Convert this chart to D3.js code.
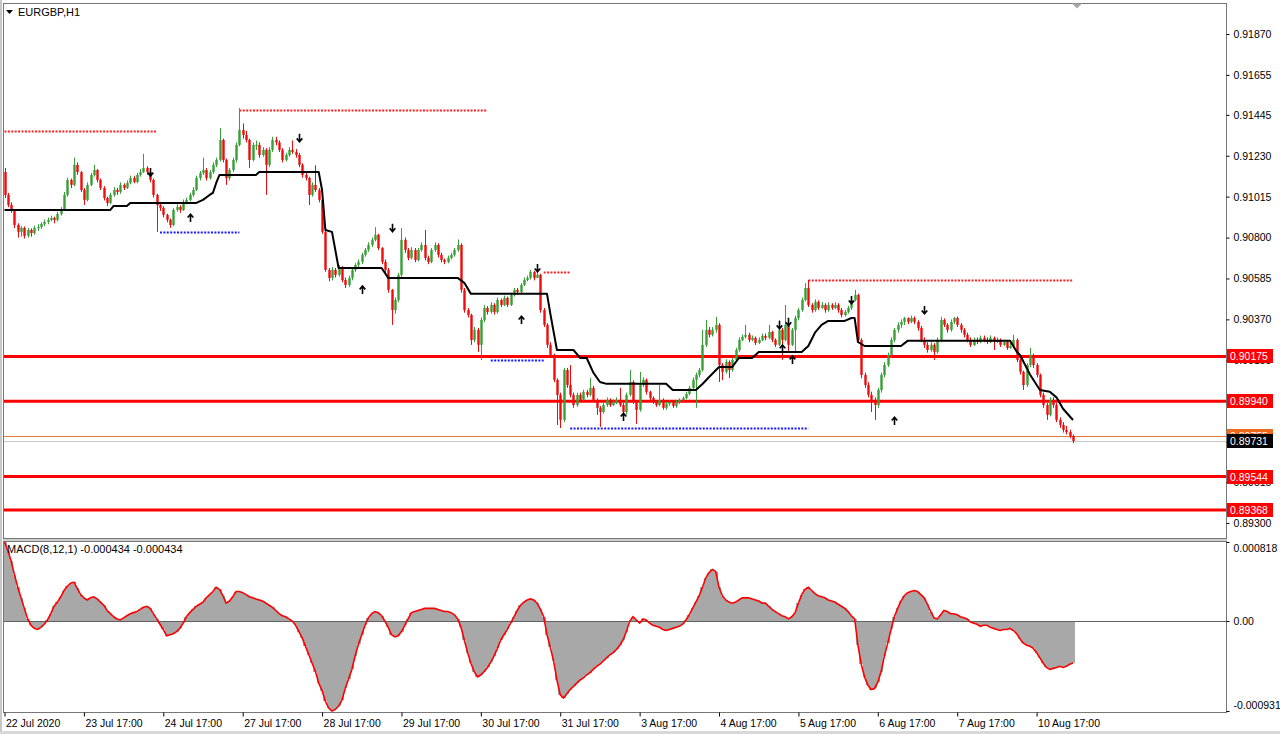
<!DOCTYPE html>
<html><head><meta charset="utf-8">
<script src="https://cdn.jsdelivr.net/npm/d3@7"></script>
<style>
html,body{margin:0;padding:0;background:#fff;}
svg{display:block;font-family:"Liberation Sans",Arial,sans-serif;}
</style></head><body>
<svg id="chart" width="1280" height="734"></svg>
<script>
// ---------------- DATA ----------------
const symbolTitle = "EURGBP,H1";
const macdTitle = "MACD(8,12,1) -0.000434 -0.000434";
const firstOpenPts = 91145; // price points (1e-5)
const closePts = [
91024,90971,90945,90866,90830,90851,90809,90840,90824,90851,
90856,90872,90882,90893,90903,90893,90924,90945,91024,91103,
91077,91182,91144,91050,90998,91077,91129,91155,91103,91061,
91008,90982,91024,91050,91040,91077,91061,91087,91113,91092,
91129,91144,91166,91144,91103,91024,90971,90956,90919,90893,
90866,90945,90961,90945,90987,90998,91024,91050,91113,91139,
91155,91113,91144,91182,91208,91313,91208,91113,91155,91208,
91287,91366,91339,91313,91208,91287,91287,91234,91261,91182,
91261,91313,91300,91261,91208,91234,91261,91250,91234,91182,
91129,91113,91024,91077,91050,90998,90830,90630,90588,90630,
90604,90640,90577,90551,90588,90630,90656,90672,90709,90735,
90761,90788,90814,90745,90672,90630,90525,90419,90472,90604,
90788,90735,90693,90735,90682,90735,90761,90693,90672,90735,
90761,90709,90682,90672,90693,90709,90735,90761,90525,90419,
90393,90262,90315,90236,90367,90430,90409,90446,90409,90472,
90446,90483,90446,90498,90525,90514,90551,90577,90588,90619,
90588,90604,90419,90341,90236,90183,90052,89973,89842,90104,
90025,89973,89920,89973,89947,89989,89973,90010,89947,89905,
89883,89920,89947,89920,89936,89947,89920,89883,89973,90041,
89936,89894,90025,90052,89989,89957,89936,89920,89947,89905,
89926,89936,89915,89936,89947,89957,89978,90010,90052,90078,
90104,90236,90315,90289,90315,90341,90130,90094,90146,90104,
90157,90209,90262,90278,90289,90262,90273,90246,90262,90283,
90273,90304,90262,90236,90315,90262,90341,90236,90315,90377,
90419,90472,90535,90446,90419,90462,90430,90446,90419,90446,
90430,90446,90419,90393,90409,90430,90472,90498,90262,90078,
90025,89973,89947,89920,89999,90078,90130,90183,90262,90315,
90341,90357,90377,90357,90377,90357,90325,90262,90236,90209,
90236,90199,90262,90367,90341,90315,90357,90377,90341,90315,
90289,90262,90236,90262,90251,90273,90262,90251,90273,90251,
90262,90236,90251,90220,90230,90262,90157,90094,90025,90130,
90183,90130,90078,89973,89920,89868,89947,89920,89842,89815,
89789,89778,89757,89731];
const highPts = [
91166,91035,90985,90950,90875,90860,90858,90850,90848,90862,
90870,90880,90895,90905,90915,90910,90935,90960,91040,91115,
91110,91220,91195,91150,91060,91090,91140,91182,91160,91110,
91070,91015,91035,91065,91060,91090,91085,91100,91125,91125,
91140,91160,91240,91175,91150,91110,91030,90985,90965,90925,
90900,90955,90975,90970,91000,91010,91035,91065,91125,91150,
91220,91165,91155,91195,91220,91375,91320,91215,91165,91220,
91300,91480,91400,91360,91320,91300,91310,91300,91275,91270,
91275,91330,91330,91310,91270,91245,91275,91310,91265,91245,
91190,91140,91120,91090,91180,91060,91005,90840,90640,90645,
90640,90655,90650,90590,90600,90640,90665,90685,90720,90745,
90775,90800,90855,90820,90750,90685,90640,90530,90485,90615,
90850,90800,90745,90750,90745,90745,90775,90840,90705,90745,
90775,90770,90720,90690,90705,90720,90745,90790,90770,90535,
90430,90400,90330,90325,90380,90445,90440,90460,90455,90485,
90480,90495,90490,90510,90535,90535,90560,90590,90600,90630,
90625,90625,90610,90430,90350,90250,90190,90060,89985,90115,
90115,90130,89985,89985,89985,90000,90000,90062,90020,89955,
89915,89930,89960,89955,89950,89960,90010,89930,89985,90104,
90050,89945,90094,90065,90060,89995,89965,89945,90025,89955,
89935,89945,89945,89945,89955,89965,89990,90020,90065,90090,
90115,90315,90367,90330,90330,90383,90350,90140,90160,90155,
90170,90220,90275,90290,90341,90300,90285,90280,90275,90295,
90295,90341,90310,90270,90367,90325,90446,90350,90325,90390,
90430,90485,90560,90577,90455,90475,90470,90460,90455,90460,
90455,90460,90455,90430,90420,90440,90485,90525,90505,90270,
90090,90040,89990,89960,90010,90090,90145,90195,90275,90325,
90355,90370,90383,90380,90390,90385,90365,90335,90275,90250,
90250,90245,90275,90383,90375,90350,90370,90383,90385,90350,
90325,90300,90275,90275,90275,90285,90285,90275,90285,90280,
90275,90270,90262,90260,90245,90289,90270,90165,90100,90140,
90220,90190,90140,90085,89985,89930,89960,89960,89930,89855,
89830,89810,89790,89765];
const lowPts = [
91008,90960,90930,90850,90800,90805,90795,90800,90805,90815,
90835,90845,90860,90870,90885,90875,90885,90915,90940,91015,
91060,91070,91130,91040,90971,90990,91070,91120,91090,91050,
90995,90966,90975,91015,91025,91030,91050,91055,91080,91085,
91085,91120,91140,91130,91090,91010,90830,90940,90905,90880,
90851,90860,90935,90930,90940,90975,90990,91015,91045,91100,
91130,91100,91105,91135,91170,91200,91195,91077,91100,91145,
91195,91280,91320,91300,91166,91200,91260,91220,91225,91024,
91170,91250,91285,91250,91195,91200,91225,91240,91220,91170,
91115,91100,90971,91015,91040,90985,90820,90620,90570,90575,
90590,90595,90565,90535,90540,90575,90620,90645,90660,90700,
90725,90750,90780,90735,90660,90615,90510,90341,90400,90460,
90590,90720,90680,90685,90670,90675,90725,90680,90660,90665,
90725,90695,90670,90660,90665,90685,90700,90725,90510,90405,
90380,90236,90250,90199,90157,90355,90395,90400,90395,90400,
90435,90440,90435,90440,90490,90500,90505,90545,90570,90580,
90575,90590,90405,90330,90220,90170,90040,89815,89799,89830,
90010,89960,89905,89910,89935,89940,89960,89965,89935,89868,
89805,89875,89910,89910,89915,89925,89910,89842,89870,89965,
89925,89820,89885,90015,89975,89945,89925,89910,89915,89895,
89895,89915,89905,89905,89925,89935,89950,89970,90000,89905,
90065,90095,90225,90275,90280,90300,90041,90050,90085,90062,
90095,90150,90200,90255,90270,90250,90255,90235,90240,90255,
90260,90265,90250,90225,90230,90157,90255,90199,90230,90199,
90365,90410,90465,90435,90405,90410,90420,90425,90405,90410,
90420,90425,90405,90380,90385,90400,90420,90465,90250,90060,
90010,89960,89883,89842,89905,89985,90065,90120,90170,90250,
90300,90325,90340,90345,90350,90345,90310,90250,90220,90195,
90200,90157,90190,90250,90330,90300,90305,90345,90330,90300,
90275,90250,90225,90230,90240,90245,90250,90240,90245,90209,
90245,90225,90230,90210,90215,90225,90145,90080,89999,90015,
90120,90115,90065,89960,89905,89842,89860,89905,89830,89800,
89775,89765,89745,89720];
// MACD main (= signal, period 1), in millionths
const macdMicro = [
818,730,621,480,349,240,131,22,-44,-76,
-87,-65,-33,11,76,153,196,251,316,360,
392,403,338,273,240,218,240,251,229,196,
164,109,76,44,22,11,33,55,76,87,
98,120,142,153,131,76,22,-33,-87,-153,
-142,-131,-109,-76,-22,44,87,120,153,174,
196,240,273,305,349,327,262,185,207,251,
305,305,294,273,251,240,229,218,207,185,
164,142,109,76,55,44,22,0,-44,-109,
-174,-262,-349,-436,-523,-643,-719,-830,-900,-931,
-915,-880,-820,-698,-600,-501,-360,-240,-142,-44,
33,76,98,87,55,0,-65,-142,-164,-153,
-109,-44,22,87,98,109,120,131,131,131,
131,120,109,98,98,87,65,22,-65,-196,
-327,-436,-523,-578,-556,-523,-480,-425,-360,-283,
-196,-142,-87,-22,44,109,164,196,218,229,
218,185,120,44,-142,-273,-414,-610,-763,-796,
-752,-709,-676,-643,-610,-589,-556,-534,-501,-469,
-447,-414,-382,-349,-327,-294,-251,-196,-109,0,
44,11,-22,22,11,-22,-44,-55,-65,-87,
-98,-87,-76,-65,-55,-33,11,65,131,196,
262,349,447,501,534,512,349,262,218,196,
185,196,218,240,240,240,229,218,207,185,
185,153,120,98,76,55,44,22,44,87,
185,273,327,349,316,283,262,251,240,218,
207,196,174,153,131,98,55,22,-251,-447,
-578,-665,-709,-698,-632,-523,-360,-229,-87,44,
131,207,262,294,305,316,305,273,240,174,
98,33,22,65,109,98,76,76,65,44,
33,22,-11,-22,-33,-55,-44,-44,-65,-76,
-87,-98,-87,-87,-76,-98,-131,-185,-229,-251,
-262,-283,-327,-382,-436,-480,-501,-490,-480,-469,
-480,-469,-447,-434];
// stop line vertices (bar index, price points)
const stopIdx = [0,32,33,37,38,58,60,62,63,64,65,76,77,95,96,97,99,101,114,116,137,139,141,164,165,167,172,174,176,178,180,182,200,202,209,211,213,216,220,222,226,228,241,243,245,247,249,254,256,257,258,260,271,273,304,306,307,310,313,316,318,320,323];
const stopPts = [90945,90945,90966,90966,90982,90982,90998,91024,91035,91087,91129,91129,91144,91144,91050,90840,90830,90640,90640,90588,90588,90562,90504,90504,90400,90209,90209,90167,90167,90090,90041,90031,90031,89999,89999,90030,90067,90120,90120,90167,90167,90199,90199,90230,90300,90341,90362,90362,90377,90377,90251,90230,90230,90257,90257,90200,90183,90080,89999,89989,89960,89900,89841];
// dotted fractal levels
const levelPts  = [91360,90830,91472,90157,90618,89799,90577];
const levelFrom = [0,47,71,147,163,171,243];
const levelTo   = [46,71,146,163,171,243,323];
const levelKind = ["res","sup","res","sup","res","sup","res"];
// fractal arrows
const downIdx = [44,89,117,161,234,237,256,278];
const downPts = [91144,91324,90851,90640,90341,90357,90472,90419];
const upIdx = [56,108,156,187,235,238,269];
const upPts = [90903,90525,90367,89857,90215,90157,89836];
// horizontal levels
const hLevels = [0.90175,0.89940,0.89544,0.89368];
const hLevelLabels = ["0.90175","0.89940","0.89544","0.89368"];
const orangeLevel = 0.89755; const orangeLabel = "0.89755";
const bidPrice = 0.89731; const bidLabel = "0.89731";
const priceTicks = [0.91870,0.91655,0.91445,0.91230,0.91015,0.90800,0.90585,0.90370,0.90155,0.89940,0.89725,0.89515,0.89300];
const priceTickLabels = ["0.91870","0.91655","0.91445","0.91230","0.91015","0.90800","0.90585","0.90370","0.90155","","","0.89515","0.89300"];
const macdTicks = [0.000818,0,-0.000931];
const macdTickLabels = ["0.000818","0.00","-0.000931"];
const dateIdx = [0,24,48,72,96,120,144,168,192,216,240,264,288,312];
const dateLabels = ["22 Jul 2020","23 Jul 17:00","24 Jul 17:00","27 Jul 17:00","28 Jul 17:00","29 Jul 17:00","30 Jul 17:00","31 Jul 17:00","3 Aug 17:00","4 Aug 17:00","5 Aug 17:00","6 Aug 17:00","7 Aug 17:00","10 Aug 17:00"];

// ---------------- BUILD ----------------
const P = v => v / 1e5;
const N = closePts.length;
const bars = closePts.map((c, i) => ({
  i, o: P(i === 0 ? firstOpenPts : closePts[i - 1]), c: P(c), h: P(highPts[i]), l: P(lowPts[i])
}));
const macd = macdMicro.map(v => v / 1e6);

const svg = d3.select("#chart");
const L = 3, R = 1226, MT = 3, MB = 538, ST = 541, SB = 712;
const step = 3.308;
const x = d3.scaleLinear().domain([0, N - 1]).range([4.5, 4.5 + step * (N - 1)]);
const y = d3.scaleLinear().domain([0.892208, 0.920329]).range([MB, MT]);
const ym = d3.scaleLinear().domain([-0.000931, 0.000818]).range([711, 542]);

svg.append("rect").attr("width", 1280).attr("height", 734).attr("fill", "#fff");
const defs = svg.append("defs");
defs.append("clipPath").attr("id", "cm").append("rect").attr("x", L + 1).attr("y", MT + 1).attr("width", R - L - 1).attr("height", MB - MT - 1);
defs.append("clipPath").attr("id", "cs").append("rect").attr("x", L + 1).attr("y", ST + 1).attr("width", R - L - 1).attr("height", SB - ST - 1);

const gm = svg.append("g").attr("clip-path", "url(#cm)");

// orange line & bid line
gm.append("line").attr("x1", L).attr("x2", R).attr("y1", Math.round(y(orangeLevel)) + 0.5).attr("y2", Math.round(y(orangeLevel)) + 0.5).attr("stroke", "#e07a3a").attr("stroke-width", 1);
gm.append("line").attr("x1", L).attr("x2", R).attr("y1", Math.round(y(bidPrice)) + 0.5).attr("y2", Math.round(y(bidPrice)) + 0.5).attr("stroke", "#c8c8c8").attr("stroke-width", 1);

// thick horizontal levels
gm.selectAll(".hl").data(hLevels).enter().append("line")
  .attr("x1", L).attr("x2", R).attr("y1", d => y(d)).attr("y2", d => y(d))
  .attr("stroke", "#ff0000").attr("stroke-width", 3);

// dotted levels
gm.selectAll(".lv").data(levelPts).enter().append("line")
  .attr("x1", (d, k) => x(levelFrom[k])).attr("x2", (d, k) => x(levelTo[k]))
  .attr("y1", d => Math.round(y(P(d))) + 0.5).attr("y2", d => Math.round(y(P(d))) + 0.5)
  .attr("stroke", (d, k) => levelKind[k] === "res" ? "#ff2020" : "#1a1aff")
  .attr("stroke-width", 2).attr("stroke-dasharray", "2,1.4");

// candles
const bull = "#36a036", bear = "#f00a0a";
const cg = gm.append("g");
cg.selectAll(".wk").data(bars).enter().append("line")
  .attr("x1", d => Math.round(x(d.i)) + 0.5).attr("x2", d => Math.round(x(d.i)) + 0.5)
  .attr("y1", d => y(d.h)).attr("y2", d => y(d.l))
  .attr("stroke", d => d.c >= d.o ? bull : bear).attr("stroke-width", 1);
cg.selectAll(".bd").data(bars).enter().append("rect")
  .attr("x", d => Math.round(x(d.i)) - 0.7).attr("width", 2.4)
  .attr("y", d => Math.min(y(d.o), y(d.c))).attr("height", d => Math.max(1, Math.abs(y(d.o) - y(d.c))))
  .attr("fill", d => d.c >= d.o ? bull : bear);

// stop line
gm.append("path").datum(stopIdx.map((d, k) => [d, P(stopPts[k])]))
  .attr("d", d3.line().x(d => x(d[0])).y(d => y(d[1])))
  .attr("fill", "none").attr("stroke", "#000").attr("stroke-width", 2).attr("stroke-linejoin", "round");

// arrows
const ag = gm.append("g").attr("stroke", "#000").attr("stroke-width", 1.6).attr("fill", "none");
downIdx.forEach((d, k) => {
  const ax = Math.round(x(d)) + 0.5, ay = y(P(downPts[k]));
  ag.append("path").attr("d", `M${ax},${ay - 4}V${ay + 3.5}M${ax - 2.8},${ay + 0.5}L${ax},${ay + 3.8}L${ax + 2.8},${ay + 0.5}`);
});
upIdx.forEach((d, k) => {
  const ax = Math.round(x(d)) + 0.5, ay = y(P(upPts[k]));
  ag.append("path").attr("d", `M${ax},${ay + 4}V${ay - 3.5}M${ax - 2.8},${ay - 0.5}L${ax},${ay - 3.8}L${ax + 2.8},${ay - 0.5}`);
});

// MACD panel
const gs = svg.append("g").attr("clip-path", "url(#cs)");
gs.selectAll(".hb").data(macd).enter().append("rect")
  .attr("x", (d, i) => x(i) - step / 2 - 0.4).attr("width", step + 0.8)
  .attr("y", d => Math.min(ym(d), ym(0))).attr("height", d => Math.abs(ym(d) - ym(0)))
  .attr("fill", "#a8a8a8").attr("shape-rendering", "crispEdges");
gs.append("line").attr("x1", L).attr("x2", R).attr("y1", Math.round(ym(0)) + 0.5).attr("y2", Math.round(ym(0)) + 0.5).attr("stroke", "#606060");
gs.append("path").datum(macd)
  .attr("d", d3.line().x((d, i) => x(i)).y(d => ym(d)))
  .attr("fill", "none").attr("stroke", "#ff0000").attr("stroke-width", 1.6);

// frames
const fr = svg.append("g").attr("fill", "none").attr("stroke", "#777");
fr.append("rect").attr("x", L + 0.5).attr("y", MT + 0.5).attr("width", R - L).attr("height", MB - MT);
fr.append("rect").attr("x", L + 0.5).attr("y", ST + 0.5).attr("width", R - L).attr("height", SB - ST);
svg.append("rect").attr("x", L).attr("y", MB + 1).attr("width", R - L + 1).attr("height", 2).attr("fill", "#cfcfcf");
svg.append("rect").attr("x", 0).attr("y", 0).attr("width", 2).attr("height", 734).attr("fill", "#c8c8c8");
svg.append("rect").attr("x", 0).attr("y", 731).attr("width", 1280).attr("height", 3).attr("fill", "#d8d8d8");
svg.append("path").attr("d", "M1072,3.5L1082,3.5L1077,8.5Z").attr("fill", "#a8a8a8");

// price axis
const fontSz = "10.5px";
const pa = svg.append("g").attr("transform", `translate(${R + 0.5},0)`)
  .call(d3.axisRight(y).tickValues(priceTicks).tickSize(3).tickPadding(4).tickFormat((d, k) => priceTickLabels[k]));
pa.select(".domain").remove();
pa.selectAll("text").attr("font-size", fontSz).attr("font-family", "Liberation Sans, Arial").attr("fill", "#000");
pa.selectAll("line").attr("stroke", "#000");

// level labels
const lab = svg.append("g").attr("font-size", fontSz).attr("font-family", "Liberation Sans, Arial");
function tag(price, text, fill) {
  const yy = Math.round(y(price));
  lab.append("rect").attr("x", R + 1).attr("y", yy - 7).attr("width", 46).attr("height", 14).attr("fill", fill);
  lab.append("text").attr("x", R + 4).attr("y", yy + 4).attr("fill", "#fff").text(text);
}
hLevels.forEach((p, k) => tag(p, hLevelLabels[k], "#ff0000"));
tag(orangeLevel, orangeLabel, "#f06a1e");
tag(bidPrice, bidLabel, "#000");

// macd axis
const ma = svg.append("g").attr("transform", `translate(${R + 0.5},0)`)
  .call(d3.axisRight(ym).tickValues(macdTicks).tickSize(3).tickPadding(4).tickFormat((d, k) => macdTickLabels[k]));
ma.select(".domain").remove();
ma.selectAll("text").attr("font-size", fontSz).attr("font-family", "Liberation Sans, Arial").attr("fill", "#000");
ma.selectAll("line").attr("stroke", "#000");
ma.selectAll(".tick").filter((d, k) => k === 0).select("text").attr("dy", "0.9em");
ma.selectAll(".tick").filter((d, k) => k === 2).select("text").attr("dy", "-0.2em");

// time axis
const ta = svg.append("g").attr("transform", `translate(0,${SB + 0.5})`)
  .call(d3.axisBottom(x).tickValues(dateIdx).tickSize(4).tickPadding(3).tickFormat((d, k) => dateLabels[k]));
ta.select(".domain").remove();
ta.selectAll("text").attr("font-size", fontSz).attr("font-family", "Liberation Sans, Arial").attr("fill", "#000").attr("text-anchor", "start").attr("dx", "1");
ta.selectAll("line").attr("stroke", "#000");

// titles
svg.append("path").attr("d", "M6,10L13,10L9.5,14Z").attr("fill", "#000");
svg.append("text").attr("x", 18).attr("y", 16).attr("font-size", "11px").attr("font-family", "Liberation Sans, Arial").text(symbolTitle);
svg.append("text").attr("x", 7).attr("y", 553).attr("font-size", "11px").attr("font-family", "Liberation Sans, Arial").text(macdTitle);
</script>
</body></html>
